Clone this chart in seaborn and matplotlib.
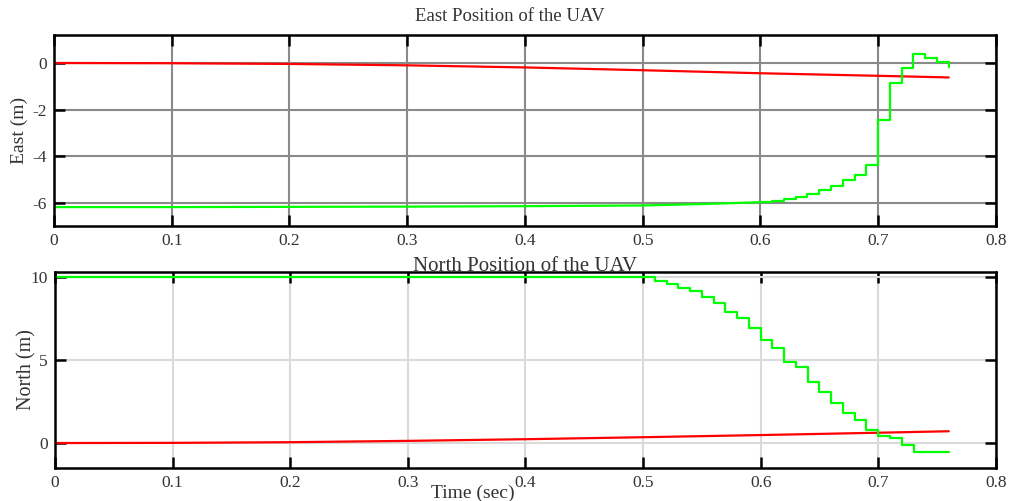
import matplotlib
matplotlib.use("Agg")
import matplotlib.pyplot as plt
import seaborn as sns
import numpy as np

# ---------------- data ----------------
# East position, red (reference / smooth)
east_red_t = [0.0, 0.1, 0.2, 0.3, 0.4, 0.5, 0.6, 0.7, 0.76]
east_red_v = [0.0, -0.01, -0.04, -0.10, -0.19, -0.31, -0.44, -0.55, -0.62]

# East position, green (smooth part)
east_green_t = [0.0, 0.1, 0.2, 0.3, 0.4, 0.5, 0.55, 0.6]
east_green_v = [-6.19, -6.19, -6.18, -6.17, -6.15, -6.12, -6.06, -5.98]
# East position, green (stepped part)
east_step_t = [0.60, 0.61, 0.62, 0.63, 0.64, 0.65, 0.66, 0.67, 0.68, 0.69,
               0.70, 0.71, 0.72, 0.73, 0.74, 0.75, 0.76]
east_step_v = [-5.98, -5.93, -5.86, -5.76, -5.62, -5.45, -5.27, -5.04, -4.83, -4.40,
               -2.46, -0.85, -0.23, 0.39, 0.20, 0.06, -0.16]

# North position, red
north_red_t = [0.0, 0.1, 0.2, 0.3, 0.4, 0.5, 0.6, 0.7, 0.76]
north_red_v = [0.0, 0.01, 0.05, 0.13, 0.23, 0.35, 0.48, 0.62, 0.71]

# North position, green (flat part)
north_green_t = [0.0, 0.5]
north_green_v = [10.0, 10.0]
# North position, green (stepped part)
north_step_t = [0.50, 0.51, 0.52, 0.53, 0.54, 0.55, 0.56, 0.57, 0.58, 0.59,
                0.60, 0.61, 0.62, 0.63, 0.64, 0.65, 0.66, 0.67, 0.68, 0.69,
                0.70, 0.71, 0.72, 0.73, 0.76]
north_step_v = [9.98, 9.76, 9.58, 9.36, 9.16, 8.81, 8.41, 7.87, 7.51, 6.91,
                6.22, 5.70, 4.90, 4.60, 3.69, 3.09, 2.39, 1.83, 1.39, 0.78,
                0.42, 0.28, -0.12, -0.52, -0.52]

x_ticks = [0, 0.1, 0.2, 0.3, 0.4, 0.5, 0.6, 0.7, 0.8]
x_tick_labels = ["0", "0.1", "0.2", "0.3", "0.4", "0.5", "0.6", "0.7", "0.8"]
east_ticks = [0, -2, -4, -6]
north_ticks = [0, 5, 10]

# ---------------- style ----------------
sns.set_style("white")
plt.rcParams["font.family"] = ["Liberation Serif", "DejaVu Serif"]
plt.rcParams["axes.unicode_minus"] = False

RED = "#ff0000"
GREEN = "#00ff00"
LW = 1.6
TXT = "#333333"

fig = plt.figure(figsize=(10.11, 5.01), dpi=100)
ax1 = fig.add_axes([0.0534, 0.549, 0.9316, 0.381])
ax2 = fig.add_axes([0.0544, 0.066, 0.9306, 0.391])

def line(ax, t, v, color, **kw):
    sns.lineplot(x=t, y=v, ax=ax, color=color, linewidth=LW,
                 estimator=None, sort=False, legend=False, **kw)

# East
line(ax1, east_red_t, east_red_v, RED)
line(ax1, east_green_t, east_green_v, GREEN)
line(ax1, east_step_t, east_step_v, GREEN, drawstyle="steps-post")

# North
line(ax2, north_red_t, north_red_v, RED)
line(ax2, north_green_t, north_green_v, GREEN)
line(ax2, north_step_t, north_step_v, GREEN, drawstyle="steps-post")

def style(ax, grid_color):
    ax.set_xlim(0, 0.8)
    ax.set_xticks(x_ticks)
    ax.set_xticklabels(x_tick_labels)
    ax.grid(True, color=grid_color, linewidth=1.5)
    ax.set_axisbelow(True)
    for s in ax.spines.values():
        s.set_color("black")
        s.set_linewidth(1.8)
        s.set_visible(True)
    ax.tick_params(direction="in", length=8, width=1.8, top=True, right=True,
                   bottom=True, left=True, labelsize=12.5, colors="black",
                   labelcolor=TXT, pad=5)

style(ax1, "#8a8a8a")
ax1.set_ylim(-7.0, 1.2)
ax1.set_yticks(east_ticks)
ax1.set_ylabel("East (m)", fontsize=14, color=TXT, labelpad=3)
ax1.set_xlabel("")
ax1.set_title("East Position of the UAV", fontsize=13.5, color=TXT, pad=10, x=0.484)

style(ax2, "#dadada")
ax2.set_ylim(-1.5, 10.3)
ax2.set_yticks(north_ticks)
ax2.set_ylabel("North (m)", fontsize=14.5, color=TXT, labelpad=-4)
ax2.set_xlabel("Time (sec)", fontsize=14, color=TXT)
ax2.xaxis.set_label_coords(0.444, -0.085)
ax2.set_title("North Position of the UAV", fontsize=15, color=TXT, pad=1)

fig.savefig("out.png", dpi=100, facecolor="white")
